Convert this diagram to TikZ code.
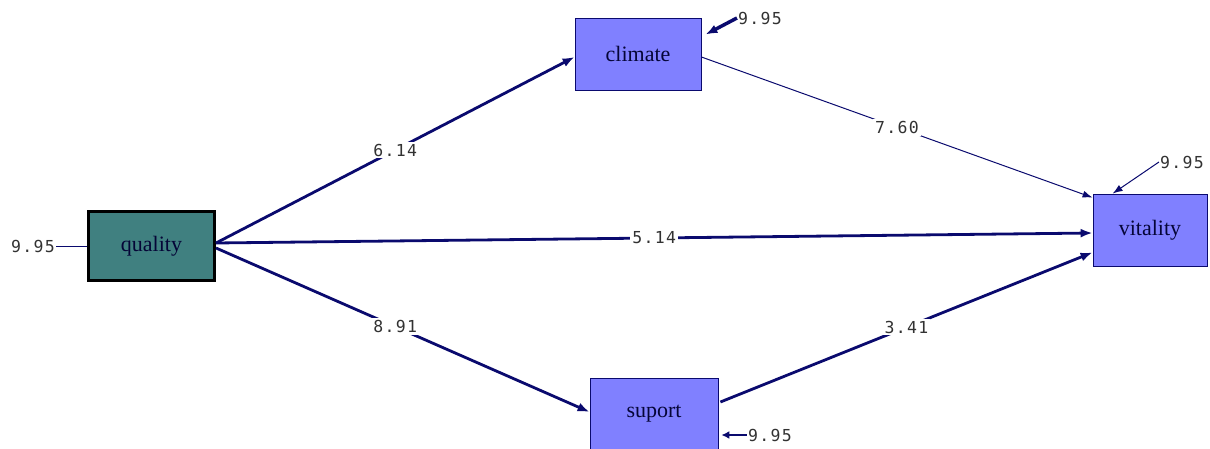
\documentclass[tikz,border=0pt]{standalone}
\usepackage{fontspec}
\setmainfont{Liberation Serif}
\newfontfamily\numfont[LetterSpace=8]{DejaVu Sans Mono}
\usetikzlibrary{arrows.meta}
\definecolor{pathblue}{RGB}{10,10,110}
\definecolor{varfill}{RGB}{128,128,255}
\definecolor{qualfill}{RGB}{64,128,128}
\definecolor{numgray}{RGB}{50,50,50}
\tikzset{
    var box/.style = {rectangle, draw=pathblue, thick, fill=varfill, minimum width=126pt, minimum height=72pt, inner sep=0pt, font=\fontsize{22}{26}\selectfont, text=pathblue!50!black},
    quality box/.style = {var box, draw=black, line width=3pt, fill=qualfill, minimum width=126pt, minimum height=69pt},
    path label/.style = {fill=white, inner sep=2pt, font={\numfont\fontsize{16.5}{19}\selectfont}, text=numgray},
    err label/.style = {inner sep=1pt, font={\numfont\fontsize{16.5}{19}\selectfont}, text=numgray},
    thick path/.style = {draw=pathblue, line width=2.8pt, -{Latex[length=12pt,width=9pt]}},
    thin path/.style = {draw=pathblue, line width=1pt, -{Latex[length=10pt,width=7pt]}}
}

\begin{document}
\begin{tikzpicture}[x=1pt, y=-1pt]
        \useasboundingbox (0,0) rectangle (1210,449);
        % variables
        \node[quality box] (qbox) at (151.5,246) {quality};
        \node[var box] (cbox) at (638,54) {climate};
        \node[var box, minimum width=114pt] (vbox) at (1150,230) {vitality};
        \node[var box, minimum width=128pt] (sbox) at (654,414) {suport};

        % paths
        \draw[thick path] ([yshift=3pt]qbox.east) -- ([yshift=-3pt]cbox.west) node[path label, pos=0.5] {6.14};
        \draw[thick path] ([yshift=3pt]qbox.east) -- ([yshift=-3pt]vbox.west) node[path label, pos=0.5] {5.14};
        \draw[thick path] ([yshift=-2pt]qbox.east) -- ([yshift=2pt]sbox.west) node[path label, pos=0.48] {8.91};
        \draw[thin path] ([yshift=-3pt]cbox.east) -- ([yshift=-4pt]vbox.north west) node[path label, pos=0.5] {7.60};
        \draw[thick path] ([xshift=2pt, yshift=12pt]sbox.east) -- ([yshift=14pt]vbox.south west) node[path label, pos=0.5] {3.41};

        % error terms
        \node[err label] (qerr) at (33,246) {9.95};
        \node[err label] (cerr) at (760,18) {9.95};
        \node[err label] (verr) at (1182,162) {9.95};
        \node[err label] (serr) at (770,435) {9.95};
        \draw[draw=pathblue, line width=1pt] (qerr.east) -- (qbox.west);
        \draw[thick path, line width=3.5pt] (cerr.west) -- ([xshift=4pt, yshift=-17pt]cbox.north east);
        \draw[thin path] (verr.west) -- ([xshift=20pt]vbox.north west);
        \draw[draw=pathblue, line width=2.2pt, -{Latex[length=8pt,width=8pt]}] (serr.west) -- ([xshift=3pt]sbox.east |- serr.west);
    \end{tikzpicture}
\end{document}
